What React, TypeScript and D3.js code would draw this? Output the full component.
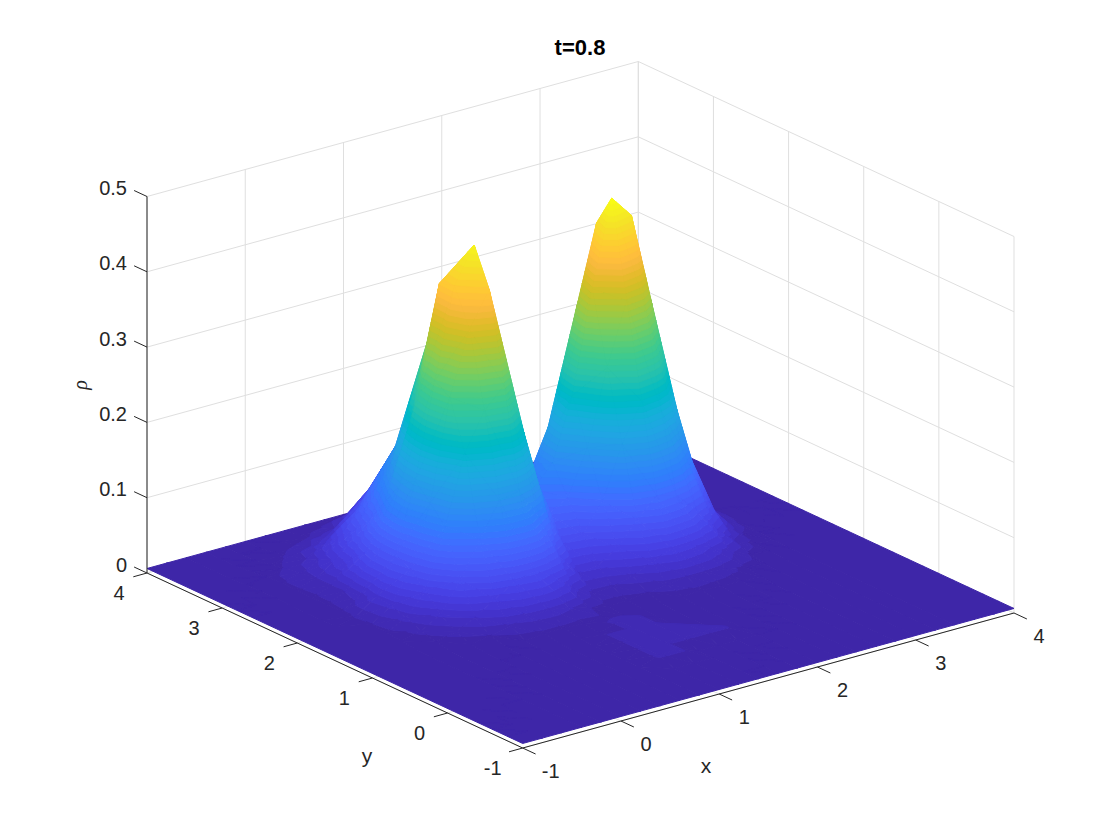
import React, { useMemo } from "react";
import * as d3 from "d3";

const gridX = d3.range(26).map((i) => -1 + i * 0.2);
const gridY = d3.range(26).map((j) => -1 + j * 0.2);

// rho, in thousandths. One row per y (from y=-1 up), one column per x (from x=-1 up).
const rhoRows: number[][] = [
  [6,6,6,6,6,6,6,6,6,6,6,6,6,6,6,6,6,6,6,6,6,6,6,6,6,6],
  [6,6,6,6,6,6,6,6,6,6,6,6,6,6,6,6,6,6,6,6,6,6,6,6,6,6],
  [6,6,6,6,6,6,6,6,6,6,6,6,6,6,6,6,6,6,6,6,6,6,6,6,6,6],
  [6,6,6,6,6,6,6,6,6,6,6,6,6,6,6,6,6,6,6,6,6,6,6,6,6,6],
  [6,6,6,6,6,6,6,6,6,6,15,15,6,6,6,6,6,6,6,6,6,6,6,6,6,6],
  [6,6,6,6,6,6,6,6,6,6,15,15,15,15,15,6,6,6,6,6,6,6,6,6,6,6],
  [6,6,6,6,6,6,6,6,6,6,15,15,15,15,6,6,6,6,6,6,6,6,6,6,6,6],
  [6,6,6,6,6,6,6,6,6,6,15,15,15,6,6,6,6,6,6,6,6,6,6,6,6,6],
  [6,6,6,6,6,6,6,7,7,7,7,15,15,6,6,7,7,7,7,6,6,6,6,6,6,6],
  [6,6,6,6,6,7,8,9,11,11,10,12,7,7,8,10,11,10,9,8,7,6,6,6,6,6],
  [6,6,6,6,7,9,13,19,24,26,22,14,10,10,13,17,20,19,16,11,8,7,6,6,6,6],
  [6,6,6,7,10,16,28,45,61,68,55,31,18,19,26,38,48,45,35,22,12,8,6,6,6,6],
  [6,6,7,9,15,30,68,115,160,165,124,66,35,38,54,84,109,102,76,44,19,10,7,6,6,6],
  [6,6,7,11,23,52,130,220,270,296,226,119,64,70,106,175,225,204,150,84,33,14,8,6,6,6],
  [6,6,8,13,30,72,152,285,368,414,286,173,95,109,168,267,349,327,239,133,51,20,9,7,6,6],
  [6,6,8,14,33,81,172,298,417,464,335,200,118,146,228,363,476,446,326,180,67,25,11,7,6,6],
  [6,6,7,12,24,80,158,275,411,428,330,188,112,135,208,331,434,407,297,164,62,23,10,7,6,6],
  [6,6,7,11,21,66,126,190,303,385,290,151,81,89,135,213,279,262,192,107,42,17,9,6,6,6],
  [6,6,7,11,19,47,93,153,195,315,239,116,56,50,73,113,147,138,102,58,24,12,7,6,6,6],
  [6,6,8,12,20,38,70,116,162,195,182,84,38,28,37,56,72,68,51,30,15,9,7,6,6,6],
  [6,6,8,12,17,29,52,84,121,158,139,63,28,17,19,27,34,32,25,16,10,7,6,6,6,6],
  [6,6,7,11,14,20,34,45,80,116,98,43,19,11,12,15,18,17,14,10,8,6,6,6,6,6],
  [6,6,6,8,10,15,20,29,38,75,61,29,13,8,8,10,11,11,9,8,7,6,6,6,6,6],
  [6,6,6,6,7,10,13,15,20,36,29,15,8,6,6,7,7,7,7,6,6,6,6,6,6,6],
  [6,6,6,6,6,6,8,10,12,15,13,8,6,6,6,6,6,6,6,6,6,6,6,6,6,6],
  [6,6,6,6,6,6,6,6,6,6,6,6,6,6,6,6,6,6,6,6,6,6,6,6,6,6],
];

const xTickValues = [-1, 0, 1, 2, 3, 4];
const yTickValues = [-1, 0, 1, 2, 3, 4];
const zTickValues = [0, 0.1, 0.2, 0.3, 0.4, 0.5];
const zTickLabels = ["0", "0.1", "0.2", "0.3", "0.4", "0.5"];

const parula: number[][] = [
  [.2422,.1504,.6603],[.2504,.1650,.7076],[.2578,.1818,.7511],[.2647,.1978,.7952],[.2706,.2147,.8364],[.2751,.2342,.8710],[.2783,.2559,.8991],[.2803,.2782,.9221],
  [.2813,.3006,.9414],[.2810,.3228,.9579],[.2795,.3447,.9717],[.2760,.3667,.9829],[.2699,.3892,.9906],[.2602,.4123,.9952],[.2440,.4358,.9988],[.2206,.4603,.9973],
  [.1963,.4847,.9892],[.1834,.5074,.9798],[.1786,.5289,.9682],[.1764,.5499,.9520],[.1687,.5703,.9359],[.1540,.5902,.9218],[.1460,.6091,.9079],[.1380,.6276,.8973],
  [.1248,.6459,.8883],[.1113,.6635,.8763],[.0952,.6798,.8598],[.0689,.6948,.8394],[.0297,.7082,.8163],[.0036,.7203,.7917],[.0067,.7312,.7660],[.0433,.7411,.7394],
  [.0964,.7500,.7120],[.1408,.7584,.6842],[.1717,.7670,.6554],[.1938,.7758,.6251],[.2161,.7843,.5923],[.2470,.7918,.5567],[.2906,.7973,.5188],[.3406,.8008,.4789],
  [.3909,.8029,.4354],[.4456,.8024,.3909],[.5044,.7993,.3480],[.5616,.7942,.3045],[.6174,.7876,.2612],[.6720,.7793,.2227],[.7242,.7698,.1910],[.7738,.7598,.1646],
  [.8203,.7498,.1535],[.8634,.7406,.1596],[.9035,.7330,.1774],[.9393,.7288,.2100],[.9728,.7298,.2394],[.9956,.7434,.2371],[.9970,.7659,.2199],[.9952,.7893,.2028],
  [.9892,.8136,.1885],[.9786,.8386,.1766],[.9676,.8639,.1643],[.9610,.8890,.1537],[.9597,.9135,.1423],[.9628,.9373,.1265],[.9691,.9606,.1064],[.9769,.9839,.0805],
];

const FONT = "'Liberation Sans', Arial, Helvetica, sans-serif";
const TICK_COLOR = "#262626";
const GRID_COLOR = "#dfdfdf";

const originX = 522.7;
const originY = 748;
const xToPx = d3.scaleLinear().domain([-1, 4]).range([0, 491.3]);
const xToPy = d3.scaleLinear().domain([-1, 4]).range([0, -135]);
const yToPx = d3.scaleLinear().domain([-1, 4]).range([0, -375.7]);
const yToPy = d3.scaleLinear().domain([-1, 4]).range([0, -175]);
const zToPy = d3.scaleLinear().domain([0, 0.5]).range([0, -376.5]);

const project = (x: number, y: number, z: number): [number, number] => [
  originX + xToPx(x) + yToPx(y),
  originY + xToPy(x) + yToPy(y) + zToPy(z),
];

type V = { x: number; y: number; v: number };

function clipAbove(poly: V[], lim: number, keepAbove: boolean): V[] {
  const out: V[] = [];
  const inside = (p: V) => (keepAbove ? p.v >= lim : p.v <= lim);
  for (let k = 0; k < poly.length; k++) {
    const a = poly[k];
    const b = poly[(k + 1) % poly.length];
    const ia = inside(a);
    const ib = inside(b);
    if (ia) out.push(a);
    if (ia !== ib) {
      const t = (lim - a.v) / (b.v - a.v);
      out.push({ x: a.x + (b.x - a.x) * t, y: a.y + (b.y - a.y) * t, v: lim });
    }
  }
  return out;
}

function buildSurface() {
  const rho = rhoRows.map((r) => r.map((m) => m / 1000));
  const lo = d3.min(rho.flat()) as number;
  const hi = d3.max(rho.flat()) as number;
  const n = parula.length;
  const level = d3.scaleLinear().domain([lo, hi]).range([0, n]);
  const colors = parula.map((c) => d3.rgb(c[0] * 255, c[1] * 255, c[2] * 255).formatHex());
  const runs: { d: string; color: string }[] = [];
  const vert = (i: number, j: number): V => {
    const [x, y] = project(gridX[i], gridY[j], rho[j][i]);
    return { x, y, v: rho[j][i] };
  };
  const addTri = (tri: V[]) => {
    const vs = tri.map((p) => p.v);
    const first = Math.min(n - 1, Math.floor(level(Math.min(...vs))));
    const last = Math.min(n - 1, Math.floor(level(Math.max(...vs))));
    for (let k = first; k <= last; k++) {
      let poly = tri;
      if (k > first) poly = clipAbove(poly, level.invert(k), true);
      if (k < last && poly.length) poly = clipAbove(poly, level.invert(k + 1), false);
      if (poly.length < 3) continue;
      const d = "M" + poly.map((p) => `${p.x.toFixed(2)},${p.y.toFixed(2)}`).join("L") + "Z";
      const color = colors[k];
      const tail = runs[runs.length - 1];
      if (tail && tail.color === color) tail.d += d;
      else runs.push({ d, color });
    }
  };
  for (let i = gridX.length - 2; i >= 0; i--) {
    for (let j = gridY.length - 2; j >= 0; j--) {
      const a = vert(i, j);
      const b = vert(i + 1, j);
      const c = vert(i + 1, j + 1);
      const e = vert(i, j + 1);
      addTri([b, c, e]);
      addTri([a, b, e]);
    }
  }
  return runs;
}

const Line = ({ a, b, color, width = 1 }: { a: [number, number]; b: [number, number]; color: string; width?: number }) => (
  <line x1={a[0]} y1={a[1]} x2={b[0]} y2={b[1]} stroke={color} strokeWidth={width} />
);

export default function App() {
  const surface = useMemo(buildSurface, []);
  const xEnd = 4;
  const yEnd = 4;
  const zTop = 0.5;
  const xLow = -1;
  const yLow = -1;
  const tickFont = { fontFamily: FONT, fontSize: 20, fill: TICK_COLOR, textAnchor: "middle" as const };
  return (
    <svg
      width={1120}
      height={840}
      viewBox="0 0 1120 840"
      style={{ position: "absolute", left: 0, top: 0, display: "block", background: "#fff" }}
    >
      {/* back walls and floor grid */}
      {xTickValues.map((x) => (
        <g key={`gx${x}`}>
          <Line a={project(x, yEnd, 0)} b={project(x, yEnd, zTop)} color={GRID_COLOR} />
          <Line a={project(x, yLow, 0)} b={project(x, yEnd, 0)} color={GRID_COLOR} />
        </g>
      ))}
      {yTickValues.map((y) => (
        <g key={`gy${y}`}>
          <Line a={project(xEnd, y, 0)} b={project(xEnd, y, zTop)} color={GRID_COLOR} />
          <Line a={project(xLow, y, 0)} b={project(xEnd, y, 0)} color={GRID_COLOR} />
        </g>
      ))}
      {zTickValues.map((z) => (
        <g key={`gz${z}`}>
          <Line a={project(xLow, yEnd, z)} b={project(xEnd, yEnd, z)} color={GRID_COLOR} />
          <Line a={project(xEnd, yEnd, z)} b={project(xEnd, yLow, z)} color={GRID_COLOR} />
        </g>
      ))}

      {/* surface */}
      <g strokeWidth={1} strokeLinejoin="round">
        {surface.map((r, k) => (
          <path key={k} d={r.d} fill={r.color} stroke={r.color} />
        ))}
      </g>

      {/* axis lines */}
      <Line a={project(xLow, yEnd, 0)} b={project(xLow, yEnd, zTop)} color={TICK_COLOR} />
      <Line a={project(xLow, yEnd, 0)} b={project(xLow, yLow, 0)} color={TICK_COLOR} />
      <Line a={project(xLow, yLow, 0)} b={project(xEnd, yLow, 0)} color={TICK_COLOR} />

      {/* ticks and labels */}
      {zTickValues.map((z, k) => {
        const p = project(xLow, yEnd, z);
        return (
          <g key={`tz${z}`}>
            <Line a={p} b={[p[0] - 12.9, p[1] - 6]} color={TICK_COLOR} />
            <text x={127} y={p[1] - 1.5} style={{ ...tickFont, textAnchor: "end" }}>
              {zTickLabels[k]}
            </text>
          </g>
        );
      })}
      {xTickValues.map((x) => {
        const p = project(x, yLow, 0);
        return (
          <g key={`tx${x}`}>
            <Line a={p} b={[p[0] + 12.9, p[1] + 6]} color={TICK_COLOR} />
            <text x={p[0] + (x < 0 ? 28 : 25)} y={p[1] + 30} style={tickFont}>
              {x}
            </text>
          </g>
        );
      })}
      {yTickValues.map((y) => {
        const p = project(xLow, y, 0);
        return (
          <g key={`ty${y}`}>
            <Line a={p} b={[p[0] - 13.7, p[1] + 3.8]} color={TICK_COLOR} />
            <text x={p[0] - (y < 0 ? 30 : 28)} y={p[1] + 26.5} style={tickFont}>
              {y}
            </text>
          </g>
        );
      })}

      <text x={706} y={773} style={{ ...tickFont, fontSize: 21 }}>x</text>
      <text x={367} y={763} style={{ ...tickFont, fontSize: 21 }}>y</text>
      <text
        transform="translate(87,385) rotate(-90)"
        style={{ fontFamily: "'Liberation Serif', serif", fontStyle: "italic", fontSize: 20, fill: TICK_COLOR, textAnchor: "middle" }}
      >
        ρ
      </text>
      <text x={580} y={55} style={{ fontFamily: FONT, fontSize: 22, fontWeight: 700, fill: "#000", textAnchor: "middle" }}>
        t=0.8
      </text>
    </svg>
  );
}
